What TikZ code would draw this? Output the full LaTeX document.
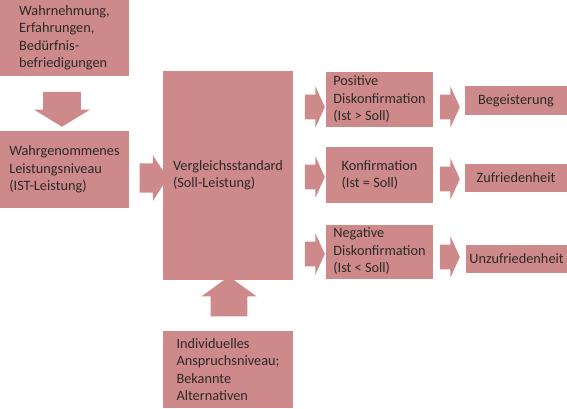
\documentclass[tikz,border=0pt]{standalone}
\usepackage{fontspec}
\setmainfont{Carlito}
\usetikzlibrary{shapes.arrows, positioning}
\definecolor{box_rose}{RGB}{206,138,138}
\definecolor{box_text}{RGB}{45,40,40}

\begin{document}
\begin{tikzpicture}[x=1pt, y=-1pt,
        bx/.style={fill=box_rose, text=box_text, align=left, inner sep=0pt,
                   font=\fontsize{14.3}{17.5}\selectfont},
        res/.style={bx, align=center, minimum width=102pt, minimum height=28pt},
        pf/.style={single arrow, fill=box_rose, inner xsep=0pt,
                   single arrow head indent=0pt},
        pfk/.style={pf, minimum height=20pt, minimum width=42pt,
                    inner ysep=10pt, single arrow tip angle=131}]
        \useasboundingbox (0,0) rectangle (567,408);
        % linke Spalte
        \node[bx, minimum width=129pt, minimum height=76pt] (wahr) at (64.5,38)
          {Wahrnehmung,\\Erfahrungen,\\Bedürfnis-\\befriedigungen};
        \node[bx, minimum width=129pt, minimum height=77pt] (ist) at (64.5,169.5)
          {Wahrgenommenes\\Leistungsniveau\\(IST-Leistung)};
        \node[pf, rotate=-90, minimum height=35pt, minimum width=56pt,
              inner ysep=14.5pt, single arrow tip angle=117] (p0) at (62,103.5) {};
        % Mitte
        \node[bx, minimum width=130pt, minimum height=209pt] (soll) at (228,175.5)
          {Vergleichsstandard\\(Soll-Leistung)};
        \node[bx, minimum width=130pt, minimum height=77pt] (anspruch) at (228,369.5)
          {Individuelles\\Anspruchsniveau;\\Bekannte\\Alternativen};
        \node[pf, minimum height=28pt, minimum width=46pt,
              inner ysep=12pt, single arrow tip angle=114] (p1) at (149,178) {};
        \node[pf, rotate=90, minimum height=40pt, minimum width=55pt,
              inner ysep=14pt, single arrow tip angle=108] (p2) at (229,303) {};
        % Diskonfirmation
        \node[bx, minimum width=107pt, minimum height=55pt] (pos) at (379.5,99.5)
          {Positive\\Diskonfirmation\\(Ist > Soll)};
        \node[bx, minimum width=107pt, minimum height=56pt] (konf) at (379.5,175)
          {Konfirmation\\(Ist = Soll)};
        \node[bx, minimum width=107pt, minimum height=54pt] (neg) at (379.5,251.5)
          {Negative\\Diskonfirmation\\(Ist < Soll)};
        \node[pfk] (p3) at (312,107) {};
        \node[pfk] (p4) at (312,177) {};
        \node[pfk] (p5) at (312,254) {};
        % Ergebnis
        \node[res, minimum height=29pt] (beg) at (516,100.5) {Begeisterung};
        \node[res] (zuf) at (516,178) {Zufriedenheit};
        \node[res] (unz) at (516.5,259) {Unzufriedenheit};
        \node[pfk] (p6) at (447,107) {};
        \node[pfk] (p7) at (447,179) {};
        \node[pfk] (p8) at (447,257) {};
      \end{tikzpicture}
\end{document}
